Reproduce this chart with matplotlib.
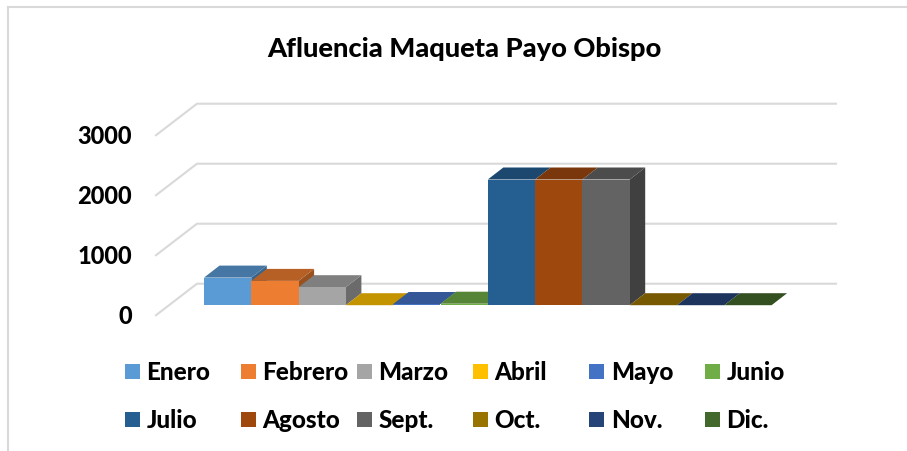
import matplotlib
matplotlib.use("Agg")
import matplotlib.pyplot as plt
from matplotlib.patches import Polygon, Rectangle
from matplotlib.colors import to_rgb

months = ["Enero", "Febrero", "Marzo", "Abril", "Mayo", "Junio",
          "Julio", "Agosto", "Sept.", "Oct.", "Nov.", "Dic."]
visitors = [460, 405, 300, 0, 20, 25, 2095, 2095, 2095, 0, 0, 0]
colors = ["#5B9BD5", "#ED7D31", "#A5A5A5", "#FFC000", "#4472C4", "#70AD47",
          "#255E91", "#9E480E", "#636363", "#997300", "#264478", "#43682B"]
y_ticks = [0, 1000, 2000, 3000]
title = "Afluencia Maqueta Payo Obispo"

W, H = 907, 452
fig = plt.figure(figsize=(W / 100, H / 100), dpi=100)
ax = fig.add_axes([0, 0, 1, 1])
ax.axis("off")

# category slot = 47.3 px starting at px 204; 1000 units = 60 px
slot = 47.3
ppu = 0.06
Y0 = 306.2
ax.set_xlim(-0.5 - 204 / slot, -0.5 + (W - 204) / slot)
ax.set_ylim(-(H - Y0) / ppu, Y0 / ppu)

plt.rcParams["font.family"] = ["Lato", "DejaVu Sans"]
GRID = "#D9D9D9"
WEIGHT = 900


def shade(c, f):
    return tuple(v * f for v in to_rgb(c))


# depth of the oblique projection, in px
DX, DY = 15.5, 12
depth_x = DX / slot
depth_y = DY / ppu

# gridlines: wall (front-left to back-left) then back wall
x_front = -0.5 + (156 - 204) / slot
x_back = -0.5 + (197 - 204) / slot
x_end = -0.5 + (836 - 204) / slot
for v in y_ticks:
    wall_y = v - 10 / ppu
    back_y = v + 21.5 / ppu
    ax.plot([x_front, x_back, x_end], [wall_y, back_y, back_y], color=GRID,
            lw=1.5, solid_joinstyle="miter", zorder=1)
    ax.text(x_front - 24 / slot, wall_y, str(v), ha="right", va="center",
            fontsize=17, fontweight=WEIGHT, color="black", zorder=5)

# bars: front face from the axes' bar, top and side as projected polygons
xs = list(range(len(months)))
ax.bar(xs, visitors, width=1.0, color=colors, linewidth=0, zorder=3)
for x, v, c in zip(xs, visitors, colors):
    l, r = x - 0.5, x + 0.5
    ax.add_patch(Polygon([(l, v), (r, v), (r + depth_x, v + depth_y), (l + depth_x, v + depth_y)],
                         closed=True, fc=shade(c, 0.77), ec="none", zorder=2.7))
    nxt = visitors[x + 1] if x + 1 < len(visitors) else -1
    if v > nxt:
        ax.add_patch(Polygon([(r, 0), (r + depth_x, depth_y), (r + depth_x, v + depth_y), (r, v)],
                             closed=True, fc=shade(c, 0.65), ec="none", zorder=2.5))

# title
ax.text(-0.5 + (464 - 204) / slot, (Y0 - 49) / ppu, title, ha="center", va="center",
        fontsize=19.6, fontweight=WEIGHT, color="black")

# legend
col_sq = [125, 241, 357, 473, 589, 705]
col_tx = [146.5, 262.5, 378.5, 494.5, 611.5, 726.5]
rows_y = [372.5, 420.5]
for i, (m, c) in enumerate(zip(months, colors)):
    col, row = i % 6, i // 6
    y = rows_y[row]
    ax.add_patch(Rectangle((col_sq[col] / W, 1 - (y + 7.5) / H), 15 / W, 15 / H,
                           transform=fig.transFigure, fc=c, ec="none"))
    fig.text(col_tx[col] / W, 1 - y / H, m, ha="left", va="center",
             fontsize=17.5, fontweight=WEIGHT, color="black")

# outer chart frame
fig.add_artist(plt.Line2D([8 / W, 8 / W], [0, 1 - 8 / H], color=GRID, lw=1.5))
fig.add_artist(plt.Line2D([8 / W, 1], [1 - 8 / H, 1 - 8 / H], color=GRID, lw=1.5))

fig.savefig("out.png", dpi=100)
